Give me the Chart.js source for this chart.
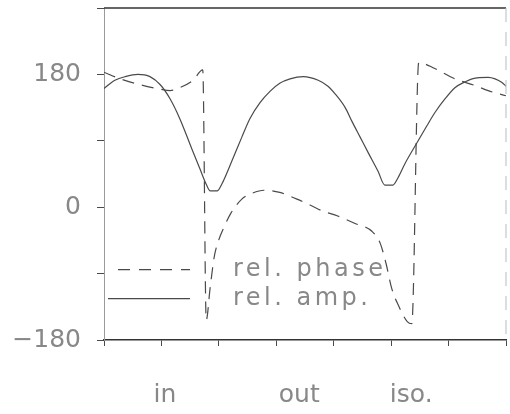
<!DOCTYPE html>
<html>
<head>
<meta charset="utf-8">
<script src="https://cdn.jsdelivr.net/npm/chart.js@4/dist/chart.umd.min.js"></script>
<style>
  html, body { margin: 0; padding: 0; background: #fff; }
  #wrap { width: 510px; height: 414px; }
</style>
</head>
<body>
<div id="wrap"><canvas id="chart"></canvas></div>
<script>
// amplitude curve (solid)
const ampX = [0, 0.19, 0.37, 0.59, 0.80, 0.98, 1.15, 1.32, 1.53, 1.67, 1.78, 1.85, 1.97, 2.05, 2.25, 2.40, 2.54, 2.72, 2.89, 3.06, 3.24, 3.47, 3.73, 3.90, 4.02, 4.20, 4.32, 4.46, 4.60, 4.77, 4.89, 5.03, 5.12, 5.24, 5.47, 5.62, 5.76, 5.94, 6.11, 6.29, 6.41, 6.69, 6.81, 6.93, 7.0];
const ampY = [161, 172, 177, 180, 177, 166, 147, 120, 79, 52, 31, 22, 22, 31, 67, 95, 120, 142, 157, 168, 174, 177, 172, 164, 154, 135, 116, 95, 74, 49, 30, 30, 40, 59, 90, 110, 128, 147, 162, 170, 174, 176, 174, 169, 164];

// phase curve (dashed)
const phaseX = [0, 0.28, 0.63, 0.98, 1.15, 1.32, 1.55, 1.72, 1.78, 1.85, 1.92, 2.00, 2.09, 2.21, 2.40, 2.58, 2.79, 3.06, 3.36, 3.64, 3.80, 4.07, 4.37, 4.67, 4.81, 4.91, 5.01, 5.12, 5.28, 5.36, 5.48, 5.76, 6.11, 6.46, 6.69, 7.0];
const phaseY = [183, 174, 166, 160, 158, 162, 172, 186, -153, -108, -67, -44, -27, -8, 11, 19, 23, 20, 11, 1, -5, -12, -22, -33, -49, -76, -110, -132, -155, -158, 196, 188, 174, 165, 158, 151];

const yTicks = [180, 0, -180];
const catLabels = ['in', 'out', 'iso.'];
const catAt = [1.06, 3.4, 5.35];
const legendNames = ['rel. phase', 'rel. amp.'];

const ink = '#4a4a4a';
const faint = '#9a9a9a';
const labelFont = { family: 'DejaVu Sans', size: 25, weight: 'normal' };

const frame = {
  id: 'frame',
  afterDraw(chart) {
    const { ctx, chartArea: a } = chart;
    ctx.save();
    ctx.strokeStyle = '#333';
    ctx.lineWidth = 1.5;
    ctx.beginPath();
    ctx.moveTo(a.left, a.top);
    ctx.lineTo(a.right, a.top);
    ctx.stroke();
    ctx.strokeStyle = '#bbb';
    ctx.lineWidth = 1;
    ctx.setLineDash([14, 10]);
    ctx.beginPath();
    ctx.moveTo(a.right, a.top);
    ctx.lineTo(a.right, a.bottom);
    ctx.stroke();

    // legend inside plot, lower left
    const y0 = chart.scales.y.getPixelForValue(-90) - 4;
    const rows = [
      { y: y0, dash: [12, 9], x1: 118, name: legendNames[0] },
      { y: y0 + 29, dash: [], x1: 108, name: legendNames[1] }
    ];
    ctx.font = '24px "DejaVu Sans"';
    ctx.letterSpacing = '3.5px';
    ctx.textBaseline = 'middle';
    ctx.fillStyle = '#888';
    rows.forEach(r => {
      ctx.strokeStyle = ink;
      ctx.lineWidth = 1.3;
      ctx.setLineDash(r.dash);
      ctx.beginPath();
      ctx.moveTo(r.x1, r.y);
      ctx.lineTo(190, r.y);
      ctx.stroke();
      ctx.fillText(r.name, 233, r.y);
    });
    ctx.restore();
  }
};

new Chart(document.getElementById('chart'), {
  type: 'line',
  data: {
    datasets: [
      {
        label: legendNames[0],
        data: phaseX.map((x, i) => ({ x, y: phaseY[i] })),
        borderColor: ink,
        borderWidth: 1.2,
        borderDash: [12, 8],
        pointRadius: 0,
        cubicInterpolationMode: 'monotone'
      },
      {
        label: legendNames[1],
        data: ampX.map((x, i) => ({ x, y: ampY[i] })),
        borderColor: ink,
        borderWidth: 1.2,
        pointRadius: 0,
        cubicInterpolationMode: 'monotone'
      }
    ]
  },
  options: {
    responsive: true,
    maintainAspectRatio: false,
    animation: false,
    layout: { padding: { top: 8, right: 4, left: 0, bottom: 0 } },
    plugins: { legend: { display: false }, tooltip: { enabled: false } },
    scales: {
      x: {
        type: 'linear',
        min: 0,
        max: 7,
        ticks: { stepSize: 1, display: false },
        grid: { drawOnChartArea: false, tickLength: 6, color: ink },
        border: { color: '#333', width: 1.5 },
        afterFit: s => { s.height = 8; s.paddingLeft = 0; s.paddingRight = 0; }
      },
      x2: {
        type: 'linear',
        position: 'bottom',
        min: 0,
        max: 7,
        grid: { display: false, drawTicks: false },
        border: { display: false },
        afterBuildTicks: s => { s.ticks = catAt.map(v => ({ value: v })); },
        ticks: {
          autoSkip: false,
          maxRotation: 0,
          padding: 32,
          color: '#888',
          font: labelFont,
          callback: (v, i) => catLabels[i]
        },
        afterFit: s => { s.height = 66; s.paddingLeft = 0; s.paddingRight = 0; }
      },
      y: {
        min: -180,
        max: 270,
        ticks: {
          stepSize: 90,
          padding: 16,
          color: '#888',
          font: labelFont,
          callback: v => yTicks.includes(v) ? (v < 0 ? '\u2212' + Math.abs(v) : String(v)) : ''
        },
        grid: { drawOnChartArea: false, tickLength: 7, color: ink },
        border: { color: faint, width: 1, dash: [10, 6] },
        afterFit: s => { s.width = 104; s.paddingTop = 0; s.paddingBottom = 0; }
      }
    }
  },
  plugins: [frame]
});
</script>
</body>
</html>
